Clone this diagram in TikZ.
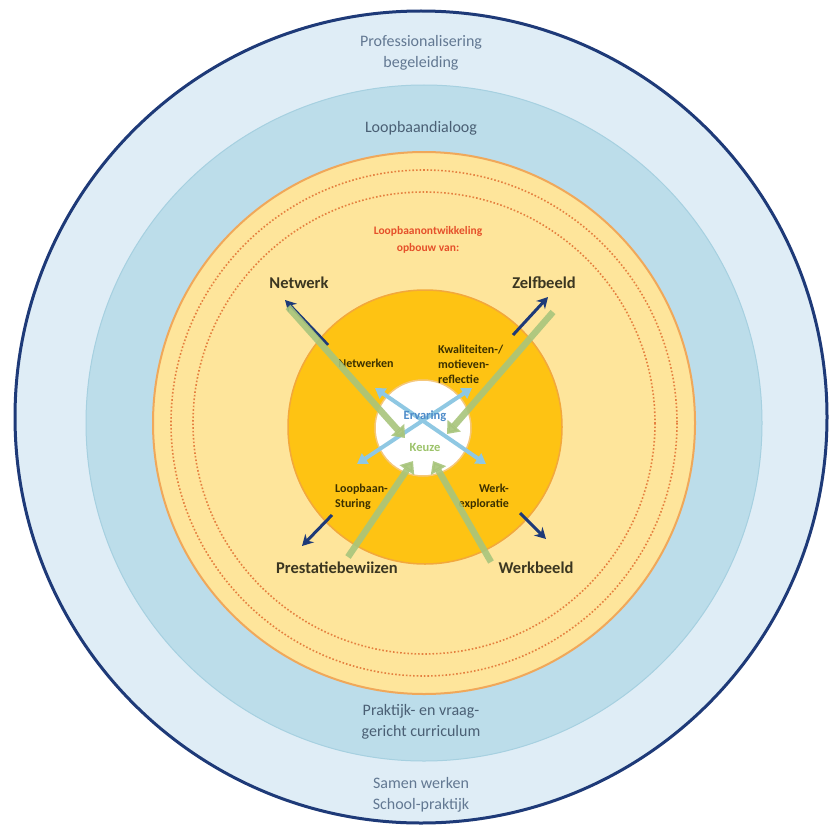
\documentclass[tikz,border=0pt]{standalone}
\usepackage{fontspec}
\setmainfont{Carlito}
\usetikzlibrary{arrows.meta}
\definecolor{navy}{HTML}{1E3A78}
\definecolor{paleblue}{HTML}{DFEDF6}
\definecolor{ringblue}{HTML}{BCDDEA}
\definecolor{ringblueedge}{HTML}{A6D0E0}
\definecolor{lightyel}{HTML}{FEE59B}
\definecolor{yeledge}{HTML}{F0A85A}
\definecolor{dotcol}{HTML}{E5803F}
\definecolor{gold}{HTML}{FEC313}
\definecolor{goldedge}{HTML}{F2A83C}
\definecolor{whiteedge}{HTML}{F5C77A}
\definecolor{outertext}{HTML}{627892}
\definecolor{dialtext}{HTML}{4A5F74}
\definecolor{redtext}{HTML}{E5502A}
\definecolor{bigtext}{HTML}{3B3621}
\definecolor{smalltext}{HTML}{3B3000}
\definecolor{ervblue}{HTML}{4F8CC9}
\definecolor{keuzegreen}{HTML}{9CC36A}
\definecolor{garrow}{HTML}{A8C57C}
\definecolor{barrow}{HTML}{8FC8E3}
\tikzset{
  outerlabel/.style={text=outertext, font=\fontsize{16}{21}\selectfont, align=center},
  diallabel/.style={text=dialtext, font=\fontsize{16}{21}\selectfont, align=center},
  redlabel/.style={text=redtext, font=\fontsize{11.5}{17}\selectfont\bfseries, align=center},
  biglabel/.style={text=bigtext, font=\fontsize{16.5}{20}\selectfont\bfseries},
  smalllabel/.style={text=smalltext, font=\fontsize{12}{15}\selectfont\bfseries, inner sep=0pt},
  navyarrow/.style={draw=navy, line width=3pt, -{Stealth[length=11pt,width=12pt]}},
  greenarrow/.style={draw=garrow, opacity=0.9, line width=6.5pt, -{Triangle[length=11pt,width=17pt]}},
  bluearrow/.style={draw=barrow, line width=4pt, {Triangle[length=10pt,width=12pt]}-{Triangle[length=10pt,width=12pt]}},
}
\begin{document}
\begin{tikzpicture}[x=1pt,y=-1pt]
\useasboundingbox (0,0) rectangle (837,832);
\fill[white] (0,0) rectangle (837,832);
% rings
\draw[fill=paleblue, draw=navy, line width=3pt] (421,417) circle (406);
\draw[fill=ringblue, draw=ringblueedge, line width=1pt] (424,423) circle (338);
\draw[fill=lightyel, draw=yeledge, line width=2pt] (424,423) circle (271);
\draw[dotcol, dotted, line width=1.6pt] (424,423) circle (253);
\draw[dotcol, dotted, line width=1.6pt] (424,423) circle (231);
\draw[fill=gold, draw=goldedge, line width=1.5pt] (425,427) circle (137);
\draw[fill=white, draw=whiteedge, line width=1.5pt] (423,428) circle (48);
% outer labels
\node[outerlabel] (prof) at (421,53) {Professionalisering\\begeleiding};
\node[diallabel] (dial) at (421,128) {Loopbaandialoog};
\node[diallabel] (prak) at (421,722) {Praktijk- en vraag-\\gericht curriculum};
\node[outerlabel] (samen) at (421,795) {Samen werken\\School-praktijk};
\node[redlabel] (ontw) at (428,240) {Loopbaanontwikkeling\\opbouw van:};
% big labels
\node[biglabel] (netwerk) at (299,283) {Netwerk};
\node[biglabel] (zelf) at (544,283) {Zelfbeeld};
\node[biglabel] (prest) at (337,568) {Prestatiebewiizen};
\node[biglabel] (werk) at (536,568) {Werkbeeld};
% small labels
\node[smalllabel] (netwerken) at (366,363) {Netwerken};
\node[smalllabel, align=left, anchor=west] (kwal) at (438,364) {Kwaliteiten-/\\motieven-\\reflectie};
\node[smalllabel, align=left, anchor=west] (loop) at (335,497) {Loopbaan-\\Sturing};
\node[smalllabel, align=right, anchor=east] (werkexp) at (509,497) {Werk-\\exploratie};
% navy arrows
\coordinate (n1a) at (328,345); \coordinate (n1b) at (285,300);
\coordinate (n2a) at (513,335); \coordinate (n2b) at (548,297);
\coordinate (n3a) at (332,515); \coordinate (n3b) at (302,546);
\coordinate (n4a) at (520,513); \coordinate (n4b) at (546,539);
\draw[navyarrow] (n1a) -- (n1b);
\draw[navyarrow] (n2a) -- (n2b);
\draw[navyarrow] (n3a) -- (n3b);
\draw[navyarrow] (n4a) -- (n4b);
% blue double arrows
\coordinate (b1a) at (375,388); \coordinate (b1b) at (486,464);
\coordinate (b2a) at (472,388); \coordinate (b2b) at (357,464);
\draw[bluearrow] (b1a) -- (b1b);
\draw[bluearrow] (b2a) -- (b2b);
% green arrows
\coordinate (g1a) at (288,307); \coordinate (g1b) at (405,438);
\coordinate (g2a) at (553,312); \coordinate (g2b) at (447,434);
\coordinate (g3a) at (348,557); \coordinate (g3b) at (413,461);
\coordinate (g4a) at (491,562); \coordinate (g4b) at (433,461);
\draw[greenarrow] (g1a) -- (g1b);
\draw[greenarrow] (g2a) -- (g2b);
\draw[greenarrow] (g3a) -- (g3b);
\draw[greenarrow] (g4a) -- (g4b);
% center labels
\node[text=ervblue, font=\fontsize{12.5}{15}\selectfont\bfseries] (erv) at (425,416) {Ervaring};
\node[text=keuzegreen, font=\fontsize{12.5}{15}\selectfont\bfseries] (keuze) at (425,447) {Keuze};
\end{tikzpicture}
\end{document}
